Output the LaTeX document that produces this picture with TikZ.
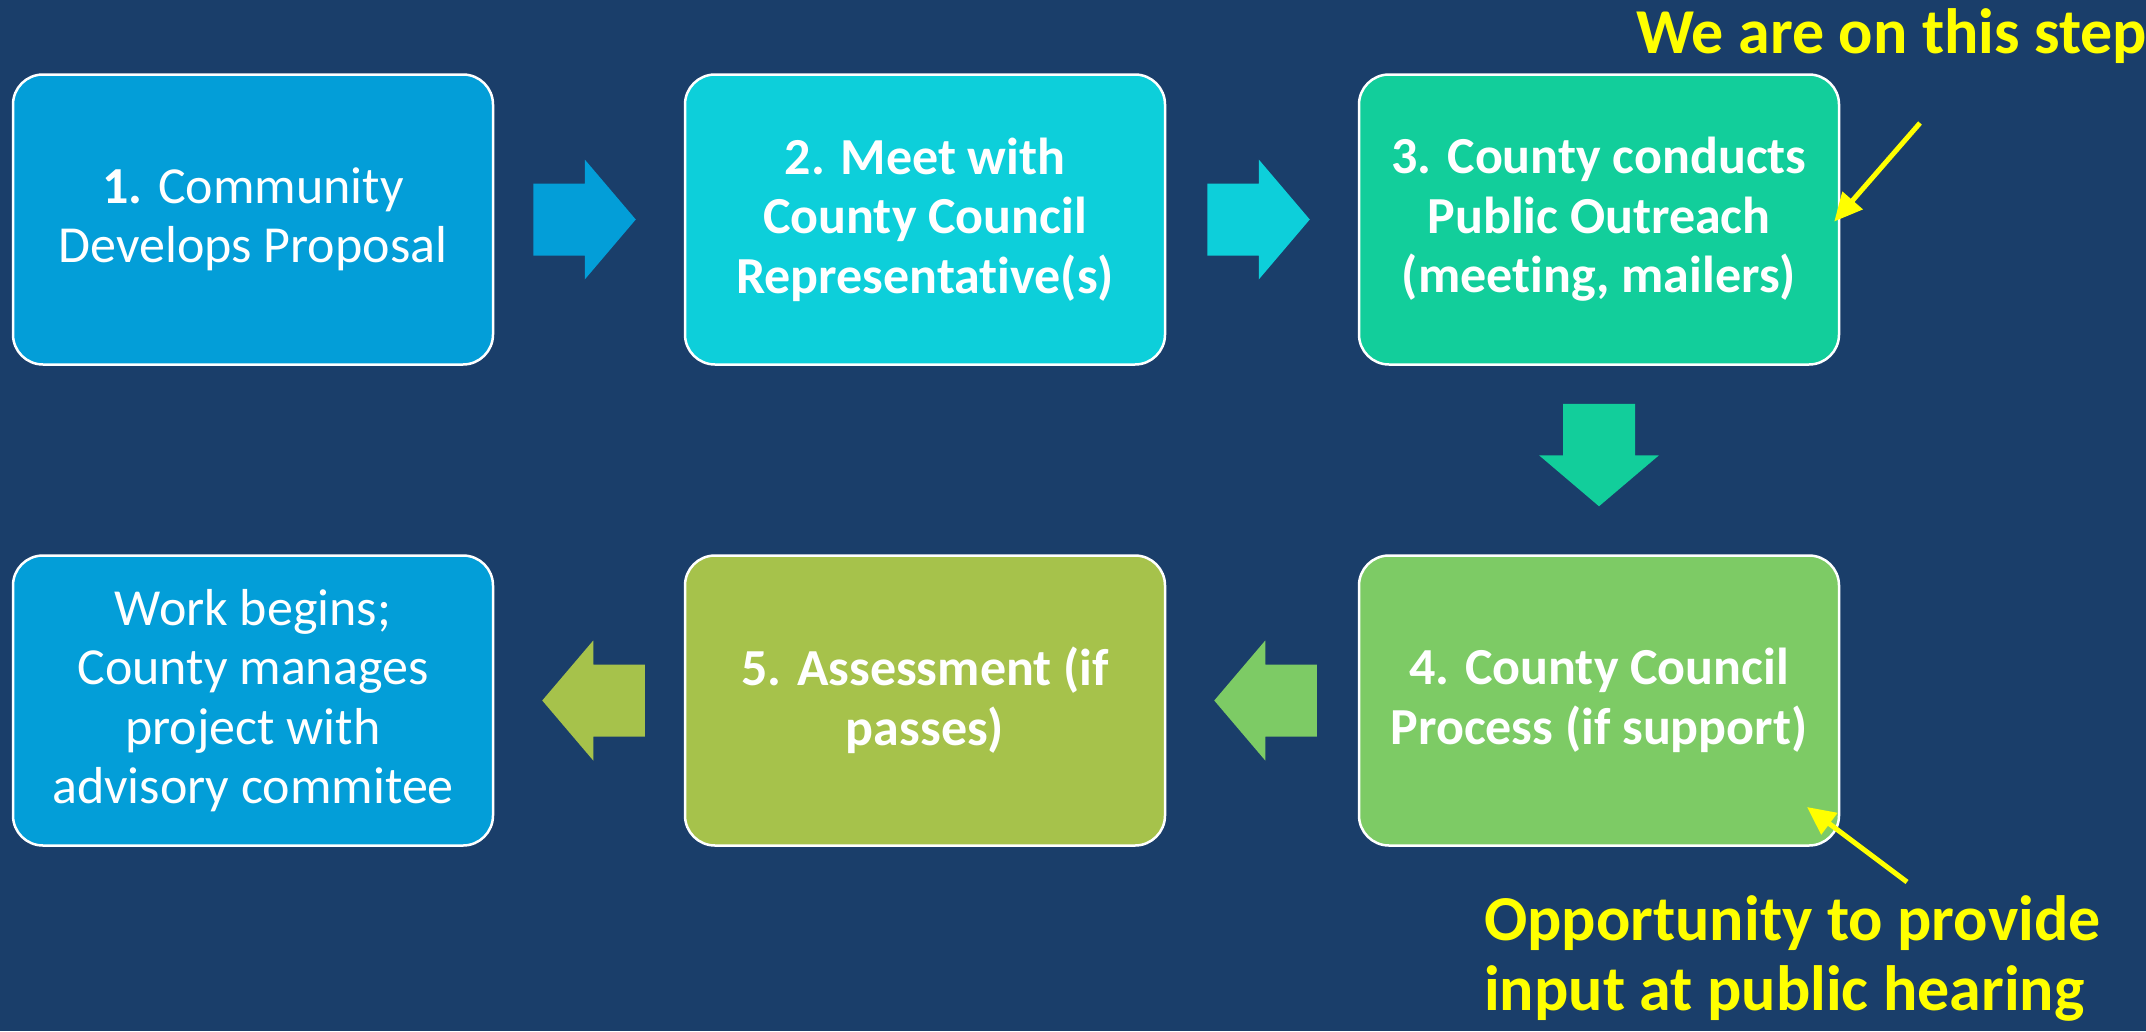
\documentclass[tikz,border=0pt]{standalone}
\usepackage{fontspec}
\setmainfont{Carlito}[Ligatures=NoCommon]
\usetikzlibrary{calc,arrows.meta}
\definecolor{bg}{HTML}{1A3E6A}
\definecolor{cblue}{HTML}{039ED8}
\definecolor{ccyan}{HTML}{0DCFDA}
\definecolor{cteal}{HTML}{12CE9B}
\definecolor{cgreen}{HTML}{7DCB65}
\definecolor{colive}{HTML}{A6C24B}
\definecolor{cyel}{HTML}{FFFF00}
\tikzset{
  stepbox/.style={draw=white, line width=2.5pt, rounded corners=30pt,
    minimum width=480pt, minimum height=290pt, inner sep=0pt,
    text=white, align=center, font=\fontsize{52}{59.5}\selectfont},
  boldbox/.style={stepbox, font=\bfseries\fontsize{52}{59.5}\selectfont},
  yelnote/.style={text=cyel, font=\bfseries\fontsize{64}{70}\selectfont, inner sep=0pt},
  yelarrow/.style={draw=cyel, line width=5pt, -{Triangle[length=28pt,width=26pt]}},
}
\newcommand\blockarrow[3]{%
  \fill[#1, shift={(#2)}, rotate=#3] (0,0) -- (-51,-60) -- (-51,-36) -- (-102.5,-36)
    -- (-102.5,36) -- (-51,36) -- (-51,60) -- cycle;}
\begin{document}
\begin{tikzpicture}[x=1pt,y=-1pt]
\fill[bg] (0,0) rectangle (2146,1031);
\useasboundingbox (0,0) rectangle (2146,1031);
% boxes
\node[stepbox, fill=cblue]  (b1) at (253,219.5) {\textbf{1.} Community\\Develops Proposal};
\node[boldbox, fill=ccyan]  (b2) at (925,219.5) {2. Meet with\\County Council\\Representative(s)};
\node[boldbox, fill=cteal]  (b3) at (1599,219.5) {3. County conducts\\Public Outreach\\(meeting, mailers)};
\node[boldbox, fill=cgreen] (b4) at (1599,700.5) {4. County Council\\Process (if support)};
\node[boldbox, fill=colive] (b5) at (925,700.5) {5. Assessment (if\\passes)};
\node[stepbox, fill=cblue]  (b6) at (253,700.5) {Work begins;\\County manages\\project with\\advisory commitee};
% block arrows (tips)
\coordinate (t12) at ($(b2.west)+(-48,0)$);
\coordinate (t23) at ($(b3.west)+(-48,0)$);
\coordinate (t34) at ($(b4.north)+(0,-48)$);
\coordinate (t45) at ($(b5.east)+(48,0)$);
\coordinate (t56) at ($(b6.east)+(48,0)$);
\blockarrow{cblue}{t12}{0}
\blockarrow{ccyan}{t23}{0}
\blockarrow{cteal}{t34}{-90}
\blockarrow{cgreen}{t45}{180}
\blockarrow{colive}{t56}{180}
% notes
\node[yelnote, anchor=base west] (n1) at (1636,53) {We are on this step};
\node[yelnote, anchor=base west, align=left] (n2) at (1484,1010) {Opportunity to provide\\input at public hearing};
\coordinate (p1) at (1920,123);
\coordinate (p2) at (1907,882);
\draw[yelarrow] (p1) -- ($(b3.east)+(-6,2)$);
\draw[yelarrow] (p2) -- (1807,807);
\end{tikzpicture}
\end{document}
